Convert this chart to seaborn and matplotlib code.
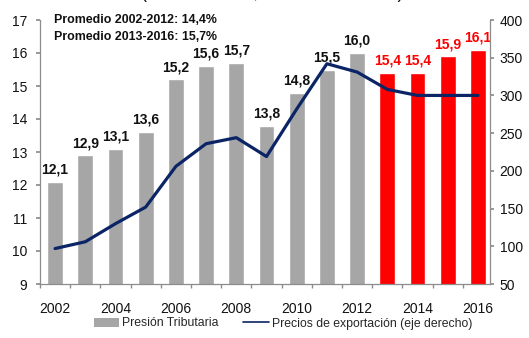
import numpy as np
import pandas as pd
import matplotlib
matplotlib.use("Agg")
import matplotlib.pyplot as plt
from matplotlib.patches import Patch
from matplotlib.lines import Line2D
import seaborn as sns

# Data
years = [2002, 2003, 2004, 2005, 2006, 2007, 2008, 2009, 2010, 2011, 2012, 2013, 2014, 2015, 2016]
presion = [12.1, 12.9, 13.1, 13.6, 15.2, 15.6, 15.7, 13.8, 14.8, 15.5, 16.0, 15.4, 15.4, 15.9, 16.1]
precios = [97, 106, 130, 152, 206, 236, 244, 219, 282, 342, 331, 308, 300, 300, 300]
periodo = ["hist"] * 11 + ["proy"] * 4
xtick_years = [2002, 2004, 2006, 2008, 2010, 2012, 2014, 2016]

sns.set_theme(style="white")
plt.rcParams["font.family"] = ["Liberation Sans", "DejaVu Sans"]

df = pd.DataFrame({"anio": [str(y) for y in years], "presion": presion,
                   "precios": precios, "periodo": periodo, "pos": np.arange(len(years))})

GRAY = "#A6A6A6"
RED = "#FF0000"
NAVY = "#0B2466"
SPINE = "#8C8C8C"

fig = plt.figure(figsize=(5.29, 3.38), dpi=100)
ax = fig.add_axes([40 / 529, 1 - 284 / 338, 450 / 529, 264 / 338])

sns.barplot(data=df, x="anio", y="presion", hue="periodo",
            palette={"hist": GRAY, "proy": RED}, dodge=False, width=0.52,
            legend=False, ax=ax, saturation=1)
ax.set_ylim(9, 17)
ax.set_xlim(-0.5, 14.4)
ax.set_xlabel("")
ax.set_ylabel("")

# value labels above bars
for i, (v, p) in enumerate(zip(presion, periodo)):
    ax.text(i, v + 0.25, f"{v:.1f}".replace(".", ","), ha="center", va="baseline",
            fontsize=10, fontweight="bold", color=RED if p == "proy" else "#111111")

ax2 = ax.twinx()
sns.lineplot(data=df, x="pos", y="precios", color=NAVY, linewidth=2.3, ax=ax2)
ax2.set_ylim(50, 400)
ax2.set_yticks(range(50, 401, 50))
ax2.set_xlim(-0.5, 14.4)
ax2.set_xlabel("")
ax2.set_ylabel("")

ax.set_yticks(range(9, 18))
ax.set_xticks([years.index(y) for y in xtick_years])
ax.set_xticklabels([str(y) for y in xtick_years])
ax.set_xticks(np.arange(-0.5, 14.0, 1.0), minor=True)
ax.tick_params(axis="x", which="major", length=0, pad=13, labelsize=10, labelcolor="#111111")
ax.tick_params(axis="x", which="minor", length=3, color=SPINE, direction="out", bottom=True)
ax.tick_params(axis="y", length=3, color=SPINE, direction="out", left=True, pad=6,
               labelsize=10, labelcolor="#111111")
ax2.tick_params(axis="y", length=3, color=SPINE, direction="out", right=True, pad=4,
                labelsize=10, labelcolor="#111111")

for a in (ax, ax2):
    a.spines["top"].set_visible(False)
    for s in ("left", "right", "bottom"):
        a.spines[s].set_color(SPINE)
        a.spines[s].set_linewidth(0.9)
ax.spines["right"].set_visible(False)
ax2.spines["left"].set_visible(False)
ax2.spines["bottom"].set_visible(False)

ax.text(0.03, 1.0, "Promedio 2002-2012: 14,4%", transform=ax.transAxes,
        fontsize=8.9, fontweight="bold", va="center", ha="left", color="#111111")
ax.text(0.03, 0.935, "Promedio 2013-2016: 15,7%", transform=ax.transAxes,
        fontsize=8.9, fontweight="bold", va="center", ha="left", color="#111111")

fig.text(0.515, 1 + 2 / 338, "(En % del PBI, índice 2000=100)", ha="center",
         va="baseline", fontsize=13, color="#111111")

handles = [Patch(facecolor=GRAY, edgecolor="none"),
           Line2D([0], [0], color=NAVY, linewidth=1.2)]
fig.legend(handles, ["Presión Tributaria", "Precios de exportación (eje derecho)"],
           loc="center", bbox_to_anchor=(0.535, 1 - 323.5 / 338), ncol=2, frameon=False,
           fontsize=8.8, handlelength=2.1, handleheight=0.7, columnspacing=2.0,
           handletextpad=0.25)

fig.savefig("out.png", dpi=100)
